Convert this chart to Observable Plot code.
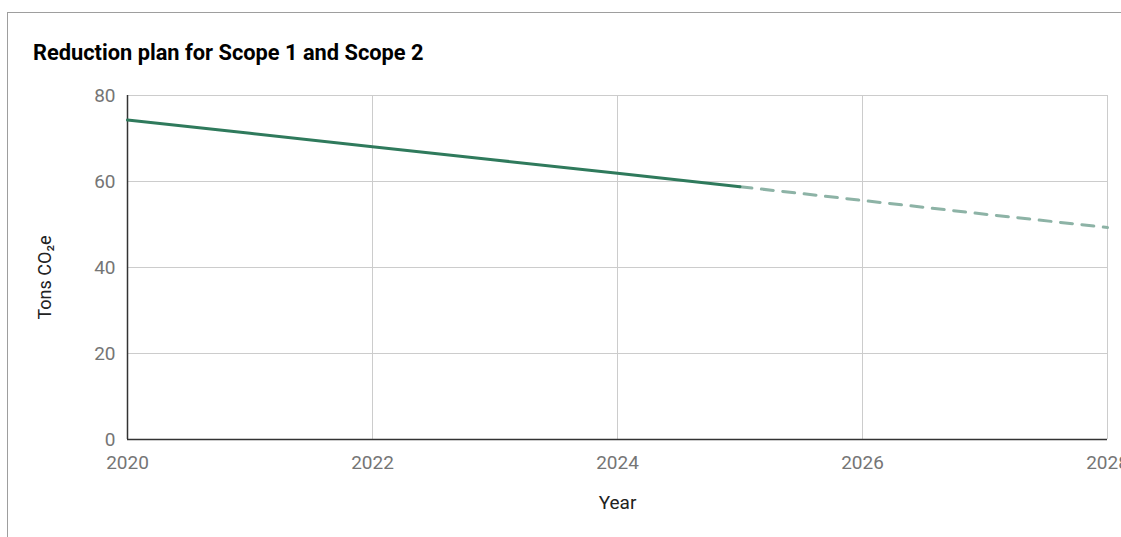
<!DOCTYPE html>
<html>
<head>
<meta charset="utf-8">
<script src="https://cdn.jsdelivr.net/npm/d3@7"></script>
<script src="https://cdn.jsdelivr.net/npm/@observablehq/plot@0.6"></script>
<style>
  html, body { margin: 0; padding: 0; background: #fff; width: 1121px; height: 537px; overflow: hidden; }
  #frame { position: absolute; left: 7px; top: 12px; width: 1300px; height: 700px; border: 1px solid #9e9e9e; box-sizing: border-box; }
  #title { position: absolute; left: 33px; top: 40px; font-family: Roboto, sans-serif; font-weight: bold; font-size: 21.8px; color: #000; white-space: nowrap; }
  #chart { position: absolute; left: 0; top: 0; }
  #chart svg { overflow: visible; }
</style>
</head>
<body>
<div id="frame"></div>
<div id="title">Reduction plan for Scope 1 and Scope 2</div>
<div id="chart"></div>
<script>
const actualYears = [2020, 2021, 2022, 2023, 2024, 2025];
const actualValues = [74.3, 71.2, 68.1, 65.0, 61.9, 58.8];
const planYears = [2025, 2026, 2027, 2028];
const planValues = [58.8, 55.6, 52.4, 49.3];
const xTicks = [2020, 2022, 2024, 2026, 2028];
const yTicks = [0, 20, 40, 60, 80];

const actual = actualYears.map((y, i) => ({year: y, value: actualValues[i]}));
const plan = planYears.map((y, i) => ({year: y, value: planValues[i]}));

const plot = Plot.plot({
  width: 1121,
  height: 537,
  marginLeft: 127,
  marginRight: 14,
  marginTop: 95,
  marginBottom: 98,
  style: {fontFamily: "Roboto, sans-serif", fontSize: "19px", color: "#757575", background: "transparent"},
  x: {domain: [2020, 2028], ticks: xTicks, tickFormat: "d"},
  y: {domain: [0, 80], ticks: yTicks},
  marks: [
    Plot.gridY(yTicks.filter(d => d > 0), {stroke: "#cccccc", strokeOpacity: 1, strokeWidth: 1}),
    Plot.gridX(xTicks.filter(d => d > 2020), {stroke: "#cccccc", strokeOpacity: 1, strokeWidth: 1}),
    Plot.axisY({ticks: yTicks, tickSize: 0, tickPadding: 12, label: null, fill: "#757575", fontSize: 19}),
    Plot.axisX({ticks: xTicks, tickSize: 0, tickPadding: 16, tickFormat: "d", label: null, fill: "#757575", fontSize: 19}),
    Plot.ruleX([2020], {stroke: "#333333", strokeWidth: 1.5}),
    Plot.ruleY([0], {stroke: "#333333", strokeWidth: 1.5}),
    Plot.line(plan, {x: "year", y: "value", stroke: "#8db3a6", strokeWidth: 3, strokeDasharray: "12,9.5"}),
    Plot.line(actual, {x: "year", y: "value", stroke: "#2f7a5c", strokeWidth: 3}),
    Plot.text(["Year"], {frameAnchor: "bottom", dy: 69, fill: "#222", fontSize: 19}),
    Plot.text(["Tons CO₂e"], {frameAnchor: "left", textAnchor: "middle", dx: -82, dy: 10, rotate: -90, fill: "#222", fontSize: 18})
  ]
});
document.getElementById("chart").appendChild(plot);
</script>
</body>
</html>
